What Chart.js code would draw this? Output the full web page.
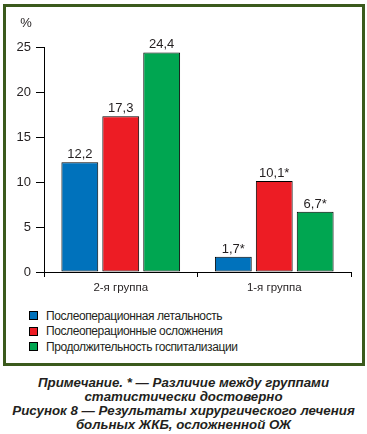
<!DOCTYPE html>
<html>
<head>
<meta charset="utf-8">
<script src="https://cdn.jsdelivr.net/npm/chart.js@4"></script>
<style>
  body { margin: 0; background: #fff; font-family: "Liberation Sans", Arial, sans-serif; }
  #wrap { position: relative; width: 367px; height: 434px; }
  #frame { position: absolute; left: 3px; top: 4px; width: 356px; height: 356px; border: 3px solid #3b5a1c; }
  #chart { position: absolute; left: 0; top: 0; }
  #legend { position: absolute; left: 29px; top: 308px; }
  .item { height: 15.6px; display: flex; align-items: center; font-size: 12px; letter-spacing: -0.4px; color: #231f20; }
  .box { width: 7px; height: 7px; border: 1px solid #000; margin-right: 8px; }
  #caption { position: absolute; left: 0; top: 376px; width: 367px; text-align: center;
    font-weight: bold; font-style: italic; font-size: 13.3px; line-height: 14px; color: #231f20; }
</style>
</head>
<body>
<div id="wrap">
  <div id="frame"></div>
  <canvas id="chart" width="367" height="300"></canvas>
  <div id="legend"></div>
  <div id="caption">Примечание. * — Различие между группами<br>статистически достоверно<br>Рисунок 8 — Результаты хирургического лечения<br>больных ЖКБ, осложненной ОЖ</div>
</div>
<script>
// данные графика
const grupos = ['2-я группа', '1-я группа'];
const series = ['Послеоперационная летальность', 'Послеоперационные осложнения', 'Продолжительность госпитализации'];
const letalnost = [12.2, 1.7];
const oslozhneniya = [17.3, 10.1];
const gospitalizaciya = [24.4, 6.7];
const rotulos = [['12,2', '1,7*'], ['17,3', '10,1*'], ['24,4', '6,7*']];
const cores = ['#0072bc', '#ed1c24', '#00a651'];
const yTicks = [0, 5, 10, 15, 20, 25];

const valores = [letalnost, oslozhneniya, gospitalizaciya];

// подписи над столбцами и знак "%"
const rotulosPlugin = {
  id: 'rotulos',
  afterDatasetsDraw(chart) {
    const ctx = chart.ctx;
    ctx.save();
    ctx.font = '13px "Liberation Sans", Arial';
    ctx.fillStyle = '#231f20';
    ctx.textAlign = 'center';
    ctx.textBaseline = 'alphabetic';
    chart.data.datasets.forEach((ds, i) => {
      chart.getDatasetMeta(i).data.forEach((bar, j) => {
        ctx.fillText(rotulos[i][j], bar.x, bar.y - 4);
      });
    });
    ctx.textBaseline = 'middle';
    ctx.fillText('%', 26, 23);
    ctx.restore();
  }
};

const ctx = document.getElementById('chart').getContext('2d');
new Chart(ctx, {
  type: 'bar',
  data: {
    labels: grupos,
    datasets: series.map((nome, i) => ({
      label: nome,
      data: valores[i],
      backgroundColor: cores[i],
      borderColor: '#000',
      borderWidth: 1,
      borderSkipped: false,
      categoryPercentage: 0.8,
      barPercentage: 0.9
    }))
  },
  options: {
    responsive: false,
    animation: false,
    layout: { padding: { top: 47, right: 16, left: 0, bottom: 0 } },
    plugins: { legend: { display: false }, tooltip: { enabled: false } },
    scales: {
      x: {
        afterFit(scale) { scale.height = 28; },
        grid: { offset: true, drawOnChartArea: false, tickLength: 5, color: '#000' },
        border: { color: '#000' },
        ticks: { color: '#231f20', font: { size: 11.5, family: '"Liberation Sans", Arial' }, padding: 4 }
      },
      y: {
        min: 0,
        max: 25,
        afterFit(scale) { scale.width = 44; },
        afterBuildTicks(scale) { scale.ticks = yTicks.map(v => ({ value: v })); },
        grid: { drawOnChartArea: false, tickLength: 8, color: '#000' },
        border: { color: '#000' },
        ticks: { color: '#231f20', font: { size: 13, family: '"Liberation Sans", Arial' }, padding: 5 }
      }
    }
  },
  plugins: [rotulosPlugin]
});

// легенда
const legenda = document.getElementById('legend');
series.forEach((nome, i) => {
  const item = document.createElement('div');
  item.className = 'item';
  item.innerHTML = `<span class="box" style="background:${cores[i]}"></span>${nome}`;
  legenda.appendChild(item);
});
</script>
</body>
</html>
